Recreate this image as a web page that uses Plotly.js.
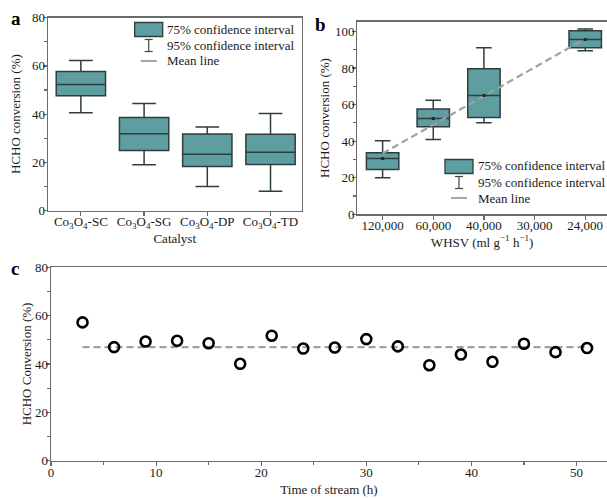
<!DOCTYPE html>
<html><head><meta charset="utf-8">
<script src="https://cdn.plot.ly/plotly-3.0.1.min.js"></script>
<style>html,body{margin:0;padding:0;background:#fff}#chart{width:607px;height:498px}</style>
</head><body><div id="chart"></div>
<script>
// ---- Panel a data ----
const catalysts = ["Co<sub>3</sub>O<sub>4</sub>-SC","Co<sub>3</sub>O<sub>4</sub>-SG","Co<sub>3</sub>O<sub>4</sub>-DP","Co<sub>3</sub>O<sub>4</sub>-TD"];
const aLower  = [40.6, 19.0, 10.0, 8.0];
const aQ1     = [47.6, 24.9, 18.3, 19.1];
const aMedian = [52.3, 31.8, 23.3, 24.2];
const aQ3     = [57.7, 38.6, 31.7, 31.6];
const aUpper  = [62.2, 44.4, 34.6, 40.3];

// ---- Panel b data ----
const whsvLabels = ["120,000","60,000","40,000","30,000","24,000"];
const whsvPos    = [1, 2, 3, 5];
const bLower  = [20.0, 40.9, 50.0, 89.4];
const bQ1     = [24.5, 47.8, 52.9, 91.1];
const bMedian = [30.5, 52.4, 64.9, 95.6];
const bQ3     = [33.6, 57.6, 79.6, 100.4];
const bUpper  = [40.2, 62.4, 91.1, 101.3];
const bMean   = [30.5, 52.4, 64.9, 95.6];
const bMeanLineX = [1, 2, 3, 5];
const bMeanLineY = [33.3, 49.0, 64.7, 96.0];

// ---- Panel c data ----
const timeH = [3,6,9,12,15,18,21,24,27,30,33,36,39,42,45,48,51];
const convC = [57.2,47.0,49.3,49.6,48.6,40.1,51.7,46.4,46.8,50.3,47.3,39.5,43.9,40.9,48.4,44.9,46.6];
const cMeanX = [3, 51];
const cMeanY = [47.0, 47.0];

const W = 607, H = 498;
const fx = x => x / W, fy = y => 1 - y / H;
const FONT = "Liberation Serif, Times New Roman, serif";
const TEAL = "#5f9ea0", EDGE = "#2e3d3d", AX = "#6a6a6a", TXT = "#1a1a1a";

function boxTrace(x, i, lo, q1, med, q3, up, xa, ya, w) {
  return {type:"box", x:[x], q1:[q1[i]], median:[med[i]], q3:[q3[i]],
    lowerfence:[lo[i]], upperfence:[up[i]], width:w, whiskerwidth:0.48,
    fillcolor:TEAL, line:{color:EDGE, width:1.5}, boxpoints:false,
    xaxis:xa, yaxis:ya, hoverinfo:"skip"};
}
const traces = [];
for (let i = 0; i < catalysts.length; i++)
  traces.push(boxTrace(i, i, aLower, aQ1, aMedian, aQ3, aUpper, "x", "y", 0.78));
for (let i = 0; i < whsvPos.length; i++)
  traces.push(boxTrace(whsvPos[i], i, bLower, bQ1, bMedian, bQ3, bUpper, "x2", "y2", 0.64));
traces.push({type:"scatter", mode:"lines", x:bMeanLineX, y:bMeanLineY, xaxis:"x2", yaxis:"y2",
  line:{color:"#a0a0a0", width:2.2, dash:"7px,4px"}});
traces.push({type:"scatter", mode:"markers", x:whsvPos, y:bMean, xaxis:"x2", yaxis:"y2",
  marker:{symbol:"square", size:3, color:"#1e2a2a"}});
traces.push({type:"scatter", mode:"lines", x:cMeanX, y:cMeanY, xaxis:"x3", yaxis:"y3",
  line:{color:"#a0a0a0", width:2.2, dash:"7px,4px"}});
traces.push({type:"scatter", mode:"markers", x:timeH, y:convC, xaxis:"x3", yaxis:"y3",
  marker:{symbol:"circle-open", size:10, color:"#000", line:{color:"#000", width:2.6}}});

function axis(extra) {
  return Object.assign({showline:true, linecolor:AX, linewidth:1.3, mirror:true,
    ticks:"outside", ticklen:4, tickwidth:1.2, tickcolor:AX, showgrid:false, zeroline:false,
    ticklabelstandoff:-5,
    tickfont:{family:FONT, size:13, color:TXT}, automargin:false, fixedrange:true}, extra);
}
function ttl(text, standoff) {
  return {text:text, font:{family:FONT, size:13, color:TXT}, standoff:standoff};
}

const shapes = [], annotations = [];
function legendBlock(rx, ry, tx) {
  shapes.push({type:"rect", xref:"paper", yref:"paper", x0:fx(rx), x1:fx(rx+28), y0:fy(ry-7), y1:fy(ry+7),
    fillcolor:TEAL, line:{color:EDGE, width:1.3}});
  const cx = rx + 14, y2 = ry + 16;
  shapes.push({type:"line", xref:"paper", yref:"paper", x0:fx(cx), x1:fx(cx), y0:fy(y2-6), y1:fy(y2+6), line:{color:"#444", width:1.2}});
  shapes.push({type:"line", xref:"paper", yref:"paper", x0:fx(cx-4), x1:fx(cx+4), y0:fy(y2-6), y1:fy(y2-6), line:{color:"#444", width:1.2}});
  shapes.push({type:"line", xref:"paper", yref:"paper", x0:fx(cx-4), x1:fx(cx+4), y0:fy(y2+6), y1:fy(y2+6), line:{color:"#444", width:1.2}});
  shapes.push({type:"line", xref:"paper", yref:"paper", x0:fx(cx-8), x1:fx(cx+8), y0:fy(ry+31.5), y1:fy(ry+31.5), line:{color:"#777", width:1.3}});
  const labels = ["75% confidence interval","95% confidence interval","Mean line"];
  labels.forEach((t, k) => annotations.push({text:t, xref:"paper", yref:"paper", x:fx(tx), y:fy(ry + k*16 - 0.5),
    xanchor:"left", yanchor:"middle", showarrow:false, font:{family:FONT, size:13, color:TXT}}));
}
legendBlock(134.7, 29.5, 165);
legendBlock(445, 166.5, 475.5);

[["a", 16, 18], ["b", 320, 24], ["c", 15, 268]].forEach(p => annotations.push({
  text:"<b>"+p[0]+"</b>", xref:"paper", yref:"paper", x:fx(p[1]), y:fy(p[2]), xanchor:"center", yanchor:"middle",
  showarrow:false, font:{family:FONT, size:19, color:"#000"}}));

const layout = {
  width:W, height:H, margin:{l:0, r:0, t:0, b:0}, paper_bgcolor:"#fff", plot_bgcolor:"#fff",
  showlegend:false, shapes:shapes, annotations:annotations,
  xaxis: axis({domain:[fx(48), fx(301.5)], range:[-0.52, 3.49], tickvals:[0,1,2,3], ticktext:catalysts,
    title:ttl("Catalyst", 0)}),
  yaxis: axis({domain:[fy(210.5), fy(17.7)], range:[0, 80], dtick:20,
    minor:{ticks:"outside", ticklen:3, dtick:10, tickcolor:AX}, title:ttl("HCHO conversion (%)", 8)}),
  xaxis2: axis({anchor:"y2", domain:[fx(357.3), 1], range:[0.5, 5.43], tickvals:[1,2,3,4,5], ticktext:whsvLabels,
    title:ttl("WHSV (ml g<sup>−1</sup> h<sup>−1</sup>)", 4)}),
  yaxis2: axis({anchor:"x2", domain:[fy(214.3), fy(21.7)], range:[0, 105.3], tickvals:[0,20,40,60,80,100],
    minor:{ticks:"outside", ticklen:3, dtick:10, tickcolor:AX}, title:ttl("HCHO conversion (%)", 2)}),
  xaxis3: axis({anchor:"y3", domain:[fx(51), 1], range:[0, 52.9], dtick:10,
    minor:{ticks:"outside", ticklen:3, dtick:5, tickcolor:AX}, title:ttl("Time of stream (h)", 6)}),
  yaxis3: axis({anchor:"x3", domain:[fy(460.7), fy(267.3)], range:[0, 80], dtick:20,
    minor:{ticks:"outside", ticklen:3, dtick:10, tickcolor:AX}, title:ttl("HCHO Conversion (%)", 0)})
};
Plotly.newPlot("chart", traces, layout, {staticPlot:true, displayModeBar:false});
</script></body></html>
